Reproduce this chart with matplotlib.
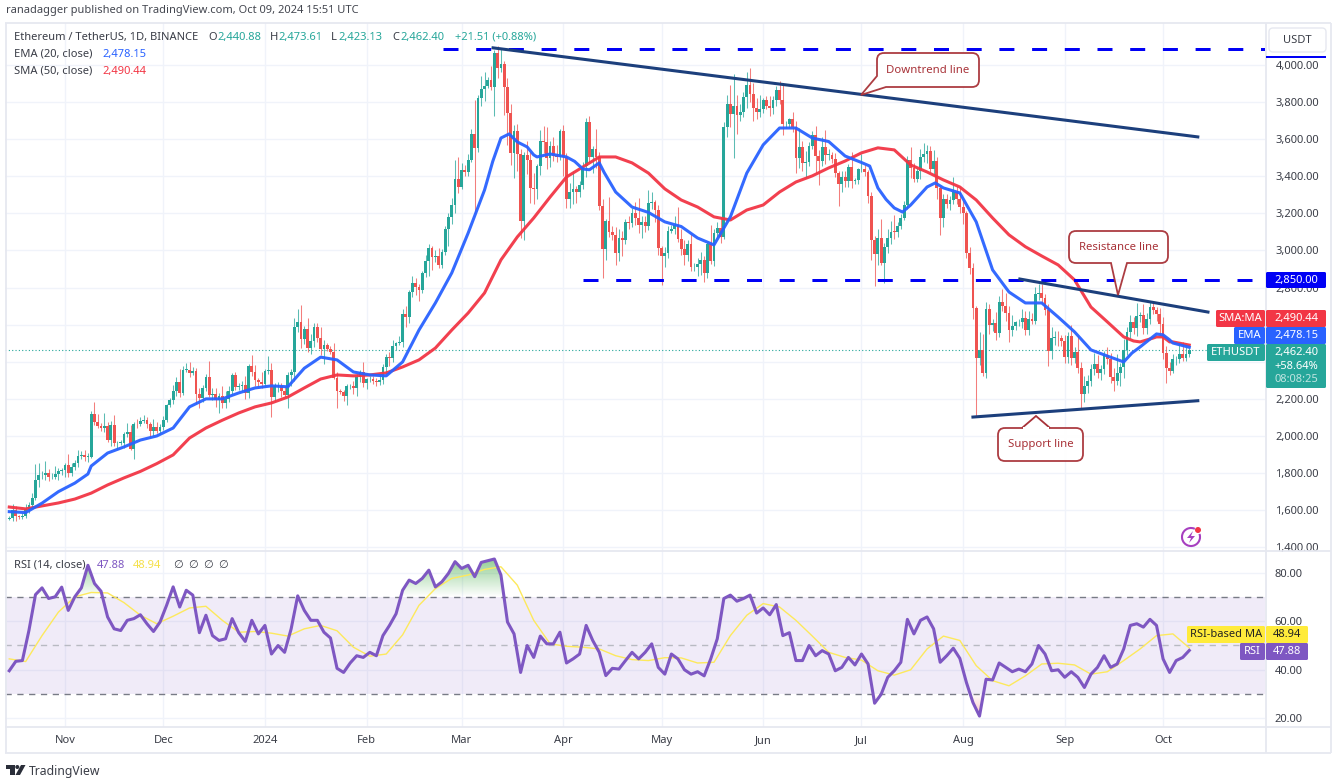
import numpy as np
import pandas as pd
import matplotlib
matplotlib.use("Agg")
import matplotlib.pyplot as plt
from matplotlib.patches import FancyBboxPatch, PathPatch, Polygon, Circle, Arc, Rectangle
from matplotlib.path import Path
from matplotlib.colors import LinearSegmentedColormap

plt.rcParams['font.family'] = ['Noto Sans', 'DejaVu Sans']

# ---------- daily closes ----------
first_open = 1555
close_oct23 = [1558,1600,1566,1565,1566,1604,1628,1664,1765,1787,1787,1803,1777,1777,1795,1810,1815]
close_nov23 = [1846,1799,1833,1856,1893,1899,1887,1887,2121,2077,2052,2045,2054,1980,2058,1961,1962,1964,2012,2023,1932,2063,2062,2081,2084,2063,2027,2048,2028,2051]
close_dec23 = [2088,2165,2192,2243,2292,2233,2358,2358,2341,2352,2225,2203,2260,2316,2220,2228,2196,2217,2177,2200,2240,2327,2265,2267,2274,2230,2378,2345,2300,2292,2281]
close_jan24 = [2352,2355,2210,2268,2268,2240,2222,2330,2344,2585,2617,2524,2576,2472,2511,2587,2528,2468,2489,2470,2453,2315,2240,2235,2218,2267,2267,2257,2317,2344,2283]
close_feb24 = [2305,2309,2295,2290,2300,2372,2424,2419,2486,2500,2507,2660,2641,2777,2824,2803,2785,2881,2945,3014,2967,2971,2923,2992,3113,3178,3243,3385,3340]
close_mar24 = [3433,3421,3490,3630,3552,3820,3868,3884,3919,3880,4065,3982,4004,3882,3740,3523,3644,3518,3158,3516,3490,3335,3330,3456,3590,3587,3500,3562,3510,3505,3645]
close_apr24 = [3504,3278,3313,3329,3317,3352,3455,3695,3505,3545,3503,3237,3006,3157,3100,3084,2984,3065,3054,3156,3148,3200,3175,3136,3156,3130,3255,3263,3216,3015]
close_may24 = [2970,2988,3103,3117,3136,3064,3006,2973,3036,2910,2912,2929,2950,2881,3036,2945,3094,3121,3072,3663,3790,3737,3780,3728,3747,3826,3892,3841,3767,3748,3760]
close_jun24 = [3813,3780,3767,3810,3865,3812,3680,3681,3706,3666,3497,3560,3469,3476,3565,3622,3510,3484,3560,3515,3517,3493,3418,3356,3398,3372,3448,3377,3378,3437]
close_jul24 = [3440,3421,3296,3058,2981,3067,2931,3018,3066,3101,3100,3134,3176,3245,3487,3443,3387,3426,3505,3519,3536,3439,3481,3336,3174,3275,3250,3272,3317,3280,3232]
close_aug24 = [3203,2987,2903,2688,2419,2461,2341,2683,2598,2610,2555,2722,2703,2661,2569,2592,2612,2612,2636,2573,2631,2622,2763,2768,2746,2680,2457,2528,2528,2526,2513]
close_sep24 = [2425,2538,2422,2450,2368,2225,2272,2297,2359,2388,2340,2362,2438,2417,2316,2295,2340,2372,2464,2560,2613,2581,2647,2653,2580,2633,2695,2677,2658,2602]
close_oct24 = [2447,2367,2349,2414,2414,2441,2422,2440,2462]

# ---------- wick lengths (USDT above / below the body) ----------
up_oct23 = [12,35,25,10,20,30,15,30,85,70,25,60,20,25,45,20,15]
lo_oct23 = [10,15,25,10,15,10,20,10,10,40,20,25,20,10,10,30,20]
up_nov23 = [10,55,20,12,30,20,25,20,15,60,40,20,70,20,25,55,10,15,10,45,35,15,30,20,30,20,15,45,30,15]
lo_nov23 = [35,20,15,15,25,15,20,25,5,20,10,20,25,15,35,15,30,10,30,20,10,55,20,10,10,20,35,25,10,20]
up_dec23 = [20,10,15,30,25,70,20,35,40,20,15,35,15,20,90,30,30,15,55,40,30,10,20,20,20,50,10,60,40,15,55]
lo_dec23 = [20,15,10,20,25,25,10,15,25,15,55,50,20,15,10,25,40,70,25,25,15,15,15,15,25,30,25,20,30,25,20]
up_jan24 = [10,75,40,15,25,20,30,15,15,50,70,90,15,60,40,20,20,60,30,10,15,50,30,15,15,15,15,30,15,10,55]
lo_jan24 = [10,20,110,20,30,30,10,70,60,50,25,50,30,20,30,30,20,30,80,10,10,10,90,10,30,50,15,30,40,25,20]
up_feb24 = [10,15,15,15,40,15,20,30,30,5,30,25,40,10,40,25,15,10,30,20,10,30,40,15,20,25,40,100,120]
lo_feb24 = [30,15,15,20,15,20,35,40,20,20,10,30,55,30,30,45,55,15,25,85,75,30,20,15,15,90,35,40,30]
up_mar24 = [40,25,30,25,180,20,75,80,15,75,15,35,80,16,50,50,30,40,30,15,75,40,80,10,60,80,80,30,50,60,10]
lo_mar24 = [10,20,20,15,350,20,40,60,10,15,155,50,20,150,170,60,130,90,90,100,80,80,80,50,50,60,60,50,30,30,20]
up_apr24 = [30,20,50,100,20,20,20,20,30,20,110,30,40,10,130,30,40,50,40,15,30,30,60,110,30,30,70,50,10,30]
lo_apr24 = [100,50,50,60,60,30,20,60,30,90,60,20,156,60,30,30,60,40,85,20,30,20,40,40,70,30,20,30,60,40]
up_may24 = [10,30,30,20,50,100,50,50,20,50,20,30,40,20,10,100,20,30,60,30,50,100,170,60,40,30,70,90,60,55,80]
lo_may24 = [155,60,30,10,30,20,30,50,30,20,20,50,60,50,30,20,30,20,30,10,50,70,237,100,30,30,60,40,70,40,30]
up_jun24 = [10,20,50,20,20,50,90,15,10,40,30,100,30,60,20,20,50,30,50,90,30,15,30,10,30,30,20,80,15,10]
lo_jun24 = [20,20,40,30,30,20,60,20,15,30,80,50,40,80,20,20,90,130,30,50,30,20,20,116,40,30,30,40,20,20]
up_jul24 = [80,20,10,20,20,50,100,20,50,60,90,20,20,20,20,70,30,20,40,60,30,25,60,25,10,30,30,20,80,30,60]
lo_jul24 = [15,20,40,110,171,60,10,108,30,30,40,30,20,10,20,50,20,20,40,30,50,15,30,60,90,50,20,30,20,30,30]
up_aug24 = [40,10,30,30,10,100,90,40,30,20,60,30,70,65,40,60,10,20,50,40,40,30,40,52,50,20,30,60,40,40,20]
lo_aug24 = [60,30,30,60,309,35,20,30,50,30,40,20,30,40,60,30,20,20,30,30,30,20,20,30,30,30,80,40,40,40,30]
up_sep24 = [30,20,60,30,90,30,50,30,30,60,50,20,20,40,30,50,100,20,60,30,40,30,70,15,60,30,30,30,20,30]
lo_sep24 = [30,30,40,30,30,75,40,40,30,30,30,40,30,30,30,50,20,70,60,30,30,30,40,30,30,30,30,20,40,60]
up_oct24 = [40,40,30,30,15,60,66,40,11]
lo_oct24 = [30,80,20,10,30,20,20,20,17]

closes = np.array(close_oct23+close_nov23+close_dec23+close_jan24+close_feb24+close_mar24+close_apr24+close_may24+close_jun24+close_jul24+close_aug24+close_sep24+close_oct24, float)
upper = np.array(up_oct23+up_nov23+up_dec23+up_jan24+up_feb24+up_mar24+up_apr24+up_may24+up_jun24+up_jul24+up_aug24+up_sep24+up_oct24, float)
lower = np.array(lo_oct23+lo_nov23+lo_dec23+lo_jan24+lo_feb24+lo_mar24+lo_apr24+lo_may24+lo_jun24+lo_jul24+lo_aug24+lo_sep24+lo_oct24, float)
assert len(closes) == len(upper) == len(lower) == 361, (len(closes), len(upper), len(lower))

# ---------- moving averages, read every 5th candle, plus extra readings at the bends ----------
ema20 = [1592,1587,1638,1700,1746,1838,1908,1941,1978,2000,2043,2157,2200,2200,2232,2259,2270,2265,2365,2425,
         2410,2345,2329,2324,2399,2571,2717,2879,3094,3326,3606,3585,3515,3520,3504,3439,3472,3315,3234,3205,
         3154,3129,3067,3030,3181,3417,3569,3660,3660,3606,3587,3509,3474,3337,3229,3245,3342,3337,3310,3154,
         2895,2776,2717,2717,2641,2561,2464,2431,2399,2480,2550,2501,2478]
ema_extra_at = [24,147.5,152.5,158,161,172.5,177,181.5,262.5,267.5,272.5,282.5,342.5,352,354]
ema_extra = [1795,3480,3628,3558,3504,3480,3435,3420,3455,3275,3207,3364,2447,2545,2518]
sma50 = [1617,1607,1623,1639,1660,1692,1736,1774,1809,1851,1898,1989,2043,2085,2124,2157,2178,2210,2259,2307,
         2329,2324,2329,2340,2372,2410,2474,2571,2663,2771,2949,3073,3175,3288,3396,3450,3504,3504,3472,3417,
         3332,3272,3234,3181,3164,3218,3245,3315,3369,3402,3445,3482,3526,3553,3542,3461,3423,3380,3342,3272,
         3175,3084,3020,2970,2922,2841,2695,2615,2534,2507,2534,2507,2490]
sma_extra_at = [343,349,352,354]
sma_extra = [2512,2528,2534,2507]

# ---------- RSI, read every 2nd candle ----------
rsi_a = [39.5,43.4,43.7,56.1,70.9,73.7,69.3,70,74,64.4,70,73.7,83,75.5,72.3,61.7,56.8,56.1,60.3,61,
         62.6,58.9,55.7,59.6,66.5,74.1,65.8,72.7,70.7,55.2,62.4,54,52,52.7,61,55.2,51.6,60.3,54.7,58.2,
         46.4,49.9,47.1,56.8,70.4,64.4,60.3,60.3,55.4,53,40.5,38.8,42.7,45.7,45,47.1,45.7,54,58.2,63,
         72.7,76.9,75.5,77.6,81,74.1,76.2,79.7]
rsi_b = [84.5,81.7,83,78.3,84.2,84.9,85.6,79,59.6,54.7,38.8,49.9,45,53.8,50.6,50.6,55.4,42.7,44.4,46.4,
         58.2,52,47.1,37.5,40.5,40.2,43.7,47.1,44.4,47.1,50.6,40.9,38.1,46.4,44.4,39.9,38.1,39.1,37.4,44.4,
         52.7,69.3,70.7,68.2,69.3,70.7,63.3,65.4,62.6,66.8,54,55.2,43.7,43.7,49.9,45.7,47.8,46.4,39.5,40.9,
         45,41.9,46.4,42.3,26.1,29.8,36.8]
rsi_c = [39.5,43,60.7,54.7,60.3,61.7,56.8,43,45.7,48.8,44.6,34.7,26.4,20.8,36,35.7,42.7,40.9,39.1,40.2,
         39.1,42.3,49.9,46.4,39.5,39.9,36.8,39.1,36.8,32.6,38.1,40.9,45.7,40.9,42.3,48.5,58.2,58.9,57.5,60.7,
         58.2,44.4,38.8,43.7,45,47.88]
rsi_ma = [44.4,43.3,54,63.7,70,71.8,71.6,67.6,62.4,58.9,62,65.4,66.1,60.3,55.4,55.7,55,53.8,56.8,58.2,
          56,49.2,45.5,46.4,54.3,66.5,73.4,77.6,79,81.3,82.4,74.8,60.3,50.6,49.6,49.2,48.5,45.7,44.1,43.7,
          44.9,44.8,42.7,43,54,62.4,67.2,65.8,60.3,53.8,47.1,45,43.9,39.5,37.7,39.9,48.5,53.8,52,41.6,
          35.4,33.3,37.4,42.3,42.6,41.9,38.1,39.1,43.7,48.5,54,54.7,48.94]
rsi = np.array(rsi_a + rsi_b + rsi_c)

# ---------- axis labels ----------
price_ticks = [1400,1600,1800,2000,2200,2400,2600,2800,3000,3200,3400,3600,3800,4000]
price_hidden = [2400,2600]
rsi_ticks = [20,40,60,80]
month_dates = ['2023-11-01','2023-12-01','2024-01-01','2024-02-01','2024-03-01','2024-04-01','2024-05-01','2024-06-01','2024-07-01','2024-08-01','2024-09-01','2024-10-01']
month_labels = ['Nov','Dec','2024','Feb','Mar','Apr','May','Jun','Jul','Aug','Sep','Oct']
level_top = 4086
level_mid = 2841
last_close = 2462.40

UP, DOWN = '#26a69a', '#ef5350'
EMA_C, SMA_C = '#2962ff', '#f23645'
RSI_C, MA_C = '#7e57c2', '#fde95c'
GRID = '#f0f3fa'
TXT = '#3a3d47'
NAVY = '#1c3f7c'
CALL = '#a83238'

W, H = 1336, 784
fig = plt.figure(figsize=(W/100, H/100), dpi=100, facecolor='white')

def axes_px(x0, y0, x1, y1, **kw):
    return fig.add_axes([x0/W, 1-y1/H, (x1-x0)/W, (y1-y0)/H], **kw)

ax = axes_px(5, 23, 1265, 551)
axr = axes_px(5, 551, 1265, 727)

start = pd.Timestamp('2023-10-15')
idx = np.arange(len(closes))
month_idx = [(pd.Timestamp(d)-start).days for d in month_dates]
xlim = (-1.3, 383.1)

opens = np.r_[first_open, closes[:-1]]
highs = np.maximum(opens, closes) + upper
lows = np.minimum(opens, closes) - lower
rising = closes >= opens
cols = np.where(rising, UP, DOWN)

ax.vlines(idx, lows, highs, colors=cols, lw=0.75, alpha=0.75, zorder=3)
ax.bar(idx, np.abs(closes-opens).clip(min=3), bottom=np.minimum(opens, closes), width=0.85, color=cols, lw=0, zorder=4)

ma_x = np.arange(0, 361, 5)
def merged(base_x, base_y, extra_x, extra_y):
    x = np.r_[base_x, extra_x]
    y = np.r_[base_y, extra_y]
    order = np.argsort(x)
    return x[order], y[order]

sx, sy = merged(ma_x, sma50, sma_extra_at, sma_extra)
ex, ey = merged(ma_x, ema20, ema_extra_at, ema_extra)
ax.plot(sx, sy, color=SMA_C, lw=2.2, zorder=5, solid_joinstyle='round', alpha=0.95)
ax.plot(ex, ey, color=EMA_C, lw=2.2, zorder=6, solid_joinstyle='round', alpha=0.95)

ax.axhline(last_close, color=UP, lw=0.8, ls=(0, (1, 2)), zorder=2)
ax.plot([132.3, xlim[1]], [level_top, level_top], color='#0000f5', lw=2.16, dashes=(5, 5.9), zorder=7)
ax.plot([175, xlim[1]], [level_mid, level_mid], color='#0000f5', lw=2.16, dashes=(5, 5.9), zorder=7)
ax.plot([147.6, 362.6], [4092, 3612], color=NAVY, lw=2.2, zorder=8)
ax.plot([308.3, 365.7], [2846, 2668], color=NAVY, lw=2.2, zorder=8)
ax.plot([294, 362.6], [2102, 2190], color=NAVY, lw=2.2, zorder=8)

ax.set_xlim(*xlim)
ax.set_ylim(1380, 4226)
ax.yaxis.tick_right()
ax.set_yticks(price_ticks)
ax.set_yticklabels(['' if v in price_hidden else f'{v:,.2f}' for v in price_ticks])
ax.set_xticks(month_idx)
ax.tick_params(axis='x', length=0, labelbottom=False)
ax.tick_params(axis='y', length=0, pad=7.5, labelsize=8, labelcolor=TXT)
ax.grid(True, color=GRID, lw=1)
ax.set_axisbelow(True)
for s in ax.spines.values():
    s.set_visible(False)

# RSI pane
axr.axhspan(30, 70, color=RSI_C, alpha=0.115, lw=0, zorder=1)
for lev, c in [(70, '#787b86'), (50, '#b8bac2'), (30, '#787b86')]:
    axr.axhline(lev, color=c, lw=1, dashes=(4.5, 4), zorder=2)
rsi_x = np.arange(0, 361, 2)[:len(rsi)]
dense_x = np.linspace(0, rsi_x[-1], 2000)
dense = np.interp(dense_x, rsi_x, rsi)
top_poly = axr.fill_between(dense_x, 70, dense, where=dense > 70, facecolor='none', lw=0)
bot_poly = axr.fill_between(dense_x, 30, dense, where=dense < 30, facecolor='none', lw=0)
green = LinearSegmentedColormap.from_list('g', [(0.30, 0.69, 0.31, 0.0), (0.30, 0.69, 0.31, 0.62)])
red = LinearSegmentedColormap.from_list('r', [(0.95, 0.3, 0.25, 0.0), (0.95, 0.3, 0.25, 0.35)])
grad = np.linspace(1, 0, 64).reshape(-1, 1)
im1 = axr.imshow(grad, extent=[0, 360, 70, 86], aspect='auto', cmap=green, zorder=2.5)
im2 = axr.imshow(grad[::-1], extent=[0, 360, 20, 30], aspect='auto', cmap=red, zorder=2.5)
for im, poly in [(im1, top_poly), (im2, bot_poly)]:
    paths = poly.get_paths()
    if paths:
        im.set_clip_path(Path.make_compound_path(*paths), transform=axr.transData)
axr.plot(ma_x, rsi_ma, color=MA_C, lw=1.0, zorder=3)
axr.plot(rsi_x, rsi, color=RSI_C, lw=2.2, zorder=4, solid_joinstyle='round')
axr.set_xlim(*xlim)
axr.set_ylim(16.3, 88.9)
axr.yaxis.tick_right()
axr.set_yticks(rsi_ticks)
axr.set_yticklabels([f'{v:.2f}' for v in rsi_ticks])
axr.set_xticks(month_idx)
axr.set_xticklabels(month_labels)
axr.get_xticklabels()[2].set_fontweight('bold')
axr.tick_params(axis='x', length=0, pad=6, labelsize=8, labelcolor=TXT)
axr.tick_params(axis='y', length=0, pad=7, labelsize=8, labelcolor=TXT)
axr.grid(True, color=GRID, lw=1)
axr.set_axisbelow(True)
for s in axr.spines.values():
    s.set_visible(False)

# ---------- overlay drawn in image pixels: frames, tags, notes, headers ----------
ov = fig.add_axes([0, 0, 1, 1], zorder=10)
ov.set_xlim(0, W); ov.set_ylim(H, 0); ov.axis('off'); ov.patch.set_alpha(0)

FRAME = '#e6e8f0'
for (x0, y0, x1, y1) in [(5, 22.5, 1331, 22.5), (5, 551, 1331, 551), (5, 727, 1331, 727), (5, 753, 1331, 753),
                         (5.5, 22.5, 5.5, 753), (1265.5, 22.5, 1265.5, 753), (1331, 22.5, 1331, 753)]:
    ov.plot([x0, x1], [y0, y1], color=FRAME, lw=1.3, solid_capstyle='butt')

def text(x, y, s, color=TXT, size=8, ha='left', weight='normal', **kw):
    return ov.text(x, y, s, color=color, fontsize=size, ha=ha, va='center', fontweight=weight, **kw)

text(6, 10.5, 'ranadagger published on TradingView.com, Oct 09, 2024 15:51 UTC', color='#444750', size=8.0)
text(14, 37, 'Ethereum / TetherUS, 1D, BINANCE', size=8)
xpos = [(208, 'O', TXT), (217, '2,440.88', UP), (270, 'H', TXT), (278, '2,473.61', UP), (331, 'L', TXT),
        (338, '2,423.13', UP), (392, 'C', TXT), (400, '2,462.40', UP), (455, '+21.51 (+0.88%)', UP)]
for x, s, c in xpos:
    text(x, 37, s, color=c, size=8)
text(14, 54, 'EMA (20, close)', size=8); text(102, 54, '2,478.15', color=EMA_C, size=8)
text(14, 71, 'SMA (50, close)', size=8); text(102, 71, '2,490.44', color=SMA_C, size=8)
text(14, 565, 'RSI (14, close)', size=8); text(97, 565, '47.88', color=RSI_C, size=8); text(133, 565, '48.94', color='#f5e04a', size=8)
for x in (173, 188, 203, 218):
    text(x, 565, '∅', size=8)

def box(x0, y0, x1, y1, fc, ec='none', r=1.5, lw=0, z=3):
    p = FancyBboxPatch((x0+r, y0+r), x1-x0-2*r, y1-y0-2*r, boxstyle=f'round,pad={r},rounding_size={r}',
                       fc=fc, ec=ec, lw=lw, zorder=z)
    ov.add_patch(p)

box(1269, 28, 1326, 52, 'white', ec='#e6e8f0', r=4, lw=1)
text(1297.5, 40, 'USDT', ha='center', size=8)
ov.add_patch(Rectangle((1266, 56), 60, 1.5, fc='#0000f5', lw=0, zorder=3))

box(1266, 272, 1326, 288, '#0000f5')
text(1296, 280, '2,850.00', color='white', ha='center', zorder=4)
box(1216, 310, 1265, 327, SMA_C); box(1266, 310, 1326, 327, SMA_C)
text(1240.5, 318.5, 'SMA:MA', color='white', ha='center', zorder=4)
text(1296, 318.5, '2,490.44', color='white', ha='center', zorder=4)
box(1234, 327, 1265, 344, EMA_C); box(1266, 327, 1326, 344, EMA_C)
text(1249.5, 335.5, 'EMA', color='white', ha='center', zorder=4)
text(1296, 335.5, '2,478.15', color='white', ha='center', zorder=4)
box(1207, 344, 1265, 361, UP); box(1266, 344, 1326, 388, UP)
text(1236, 352.5, 'ETHUSDT', color='white', ha='center', zorder=4)
text(1296, 352.5, '2,462.40', color='white', ha='center', zorder=4)
text(1296, 366, '+58.64%', color='white', ha='center', zorder=4)
text(1296, 379, '08:08:25', color='#bfe5e1', ha='center', zorder=4)

box(1187, 626, 1265, 643, '#ffeb3b'); box(1266, 626, 1308, 643, '#ffeb3b')
text(1226, 634.5, 'RSI-based MA', color='#222', ha='center', zorder=4)
text(1287, 634.5, '48.94', color='#222', ha='center', zorder=4)
box(1240, 643, 1265, 660, RSI_C); box(1266, 643, 1308, 660, RSI_C)
text(1252.5, 651.5, 'RSI', color='white', ha='center', zorder=4)
text(1287, 651.5, '47.88', color='white', ha='center', zorder=4)

def callout(x0, y0, x1, y1, pointer, label, r=7, cut_corner=False):
    M, L, C = Path.MOVETO, Path.LINETO, Path.CURVE3
    verts = [(x0+r, y0), (x1-r, y0), (x1, y0), (x1, y0+r), (x1, y1-r), (x1, y1), (x1-r, y1)]
    codes = [M, L, C, C, L, C, C]
    for p in pointer:
        verts.append(p); codes.append(L)
    if not cut_corner:
        verts += [(x0+r, y1), (x0, y1), (x0, y1-r)]; codes += [L, C, C]
    verts += [(x0, y0+r), (x0, y0), (x0+r, y0)]; codes += [L, C, C]
    ov.add_patch(PathPatch(Path(verts, codes), fc='white', ec=CALL, lw=1.3, zorder=5, alpha=0.95))
    text((x0+x1)/2, (y0+y1)/2, label, color=CALL, ha='center', size=8.2, zorder=6)

callout(877, 53, 979, 87, [(886, 87), (861, 95), (877, 76)], 'Downtrend line', cut_corner=True)
callout(1069, 231, 1168, 263, [(1127, 263), (1118, 295), (1111, 263)], 'Resistance line')
callout(998, 428, 1083, 461, [], 'Support line')
ov.add_patch(Polygon([(1022, 428), (1036, 416), (1050, 428)], closed=False, fc='white', ec=CALL, lw=1.3, zorder=5.5))
ov.add_patch(Rectangle((1023, 427), 26, 2.5, fc='white', ec='none', zorder=5.6))

# news icon
ov.add_patch(Arc((1191, 537), 18, 18, theta1=-20, theta2=295, ec='#a63fc0', lw=1.5, zorder=6))
ov.add_patch(Polygon([(1193, 531), (1187, 538), (1191, 538), (1189, 543), (1195, 536), (1191, 536)], closed=True, fc='#a63fc0', lw=0, zorder=6))
ov.add_patch(Circle((1198, 530), 3, fc='#f23645', lw=0, zorder=7))

# footer logo
ov.add_patch(Polygon([(6, 765), (14.5, 765), (14.5, 775), (10, 775), (10, 769), (6, 769)], closed=True, fc='#2a2e39', lw=0))
ov.add_patch(Circle((17.3, 767), 2, fc='#2a2e39', lw=0))
ov.add_patch(Polygon([(21, 765), (25.5, 765), (20, 775), (15.5, 775)], closed=True, fc='#2a2e39', lw=0))
text(29, 771, 'TradingView', color='#3a3d47', size=8.8)

fig.savefig('out.png', dpi=100, facecolor='white')
